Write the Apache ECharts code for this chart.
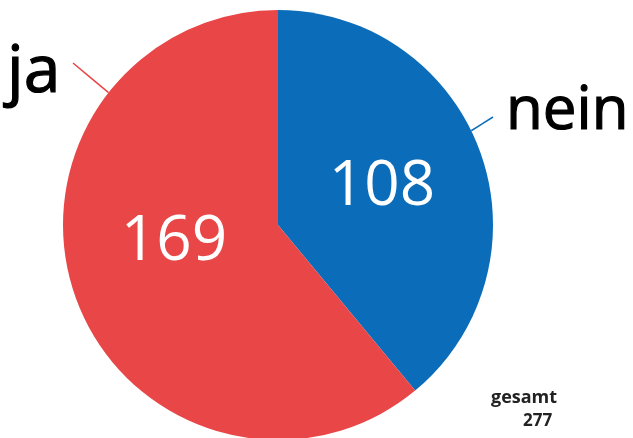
<!DOCTYPE html>
<html>
<head>
<meta charset="utf-8">
<script src="https://cdn.jsdelivr.net/npm/echarts@6/dist/echarts.min.js"></script>
<style>
    html, body { margin: 0; padding: 0; background: #fff; }
    #chart { width: 633px; height: 438px; }
</style>
</head>
<body>
<div id="chart"></div>
<script>
    // daten
    var names = ['nein', 'ja'];
    var values = [108, 169];
    var colors = ['#0b6db9', '#e84647'];

    var total = values.reduce(function (a, b) { return a + b; }, 0);

    // layout
    var CENTER = [278, 225];
    var RADIUS = 215;
    var FONT = '"Open Sans", sans-serif';
    // winkel (im uhrzeigersinn ab 12 uhr) wo die linie ansetzt, und wo der text sitzt
    var outer = [
        { angle: 64, lineEnd: [493, 117], textAt: [506, 112], size: 60 },
        { angle: 308, lineEnd: [73, 63], textAt: [7, 73], size: 66 }
    ];

    function edgePoint(deg) {
        var rad = deg * Math.PI / 180;
        return [CENTER[0] + RADIUS * Math.sin(rad), CENTER[1] - RADIUS * Math.cos(rad)];
    }

    var pieData = names.map(function (n, i) {
        return { name: n, value: values[i], itemStyle: { color: colors[i] } };
    });

    var myChart = echarts.init(document.getElementById('chart'));

    var option = {
        animation: false,
        title: [{
            text: 'gesamt',
            left: 491,
            top: 389,
            padding: 0,
            textStyle: { fontFamily: FONT, fontSize: 18, fontWeight: 'bold', color: '#222' }
        }, {
            text: String(total),
            left: 523,
            top: 413,
            padding: 0,
            textStyle: { fontFamily: FONT, fontSize: 17, fontWeight: 'bold', color: '#222' }
        }],
        series: [{
            type: 'pie',
            center: CENTER,
            radius: RADIUS,
            startAngle: 90,
            clockwise: true,
            silent: true,
            data: pieData,
            label: {
                show: true,
                position: 'inside',
                formatter: '{c}',
                color: '#fff',
                fontFamily: FONT,
                fontSize: 62
            },
            labelLayout: function (params) {
                // "169" sitzt etwas hoeher als die mitte
                if (params.dataIndex === 1) return { dy: -20 };
                return {};
            },
            labelLine: { show: false }
        }, {
            type: 'pie',
            center: CENTER,
            radius: RADIUS,
            startAngle: 90,
            clockwise: true,
            silent: true,
            data: names.map(function (n, i) {
                return { name: n, value: values[i], itemStyle: { color: 'rgba(0,0,0,0)' } };
            }),
            label: {
                show: true,
                position: 'outside',
                formatter: '{b}',
                color: '#000',
                textBorderColor: '#000',
                textBorderWidth: 1.2,
                fontFamily: FONT,
                fontSize: 60,
                overflow: 'none',
                alignTo: 'none'
            },
            labelLine: {
                show: true,
                length: 5,
                length2: 5,
                lineStyle: { width: 1.5 }
            },
            labelLayout: function (params) {
                var o = outer[params.dataIndex];
                var p0 = edgePoint(o.angle);
                var p2 = o.lineEnd;
                var p1 = [(p0[0] + p2[0]) / 2, (p0[1] + p2[1]) / 2];
                return {
                    x: o.textAt[0],
                    y: o.textAt[1],
                    align: 'left',
                    verticalAlign: 'middle',
                    fontSize: o.size,
                    hideOverlap: false,
                    labelLinePoints: [p0, p1, p2]
                };
            }
        }]
    };

    // linienfarbe wie das segment
    option.series[1].data.forEach(function (d, i) {
        d.labelLine = { lineStyle: { color: colors[i] } };
    });

    myChart.setOption(option);
</script>
</body>
</html>
